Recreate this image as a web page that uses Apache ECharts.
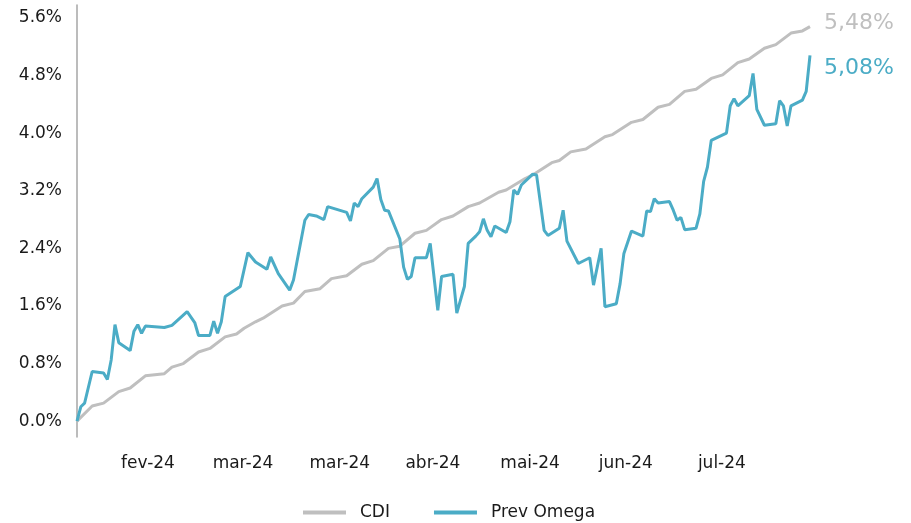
<!DOCTYPE html>
<html>
<head>
<meta charset="utf-8">
<script src="https://cdn.jsdelivr.net/npm/echarts@6/dist/echarts.min.js"></script>
<style>
  html, body { margin: 0; padding: 0; background: #fff; }
  #chart { width: 911px; height: 523px; }
</style>
</head>
<body>
<div id="chart"></div>
<script>
// dias corridos desde 29/12/2023
const cdiDays = [0, 4, 7, 11, 14, 18, 23, 25, 28, 32, 35, 39, 42, 44, 47, 49, 54, 57, 60, 64,
  67, 71, 75, 78, 82, 85, 89, 92, 96, 99, 103, 106, 111, 113, 118, 120, 125, 127, 130, 134,
  139, 141, 146, 149, 153, 156, 160, 163, 167, 170, 174, 177, 181, 184, 188, 191, 193];
const cdiVals = [0.00, 0.21, 0.25, 0.41, 0.46, 0.63, 0.66, 0.75, 0.80, 0.96, 1.01, 1.17, 1.21, 1.29, 1.38, 1.43, 1.60, 1.64, 1.80, 1.84,
  1.98, 2.02, 2.18, 2.23, 2.40, 2.43, 2.61, 2.65, 2.80, 2.85, 2.98, 3.03, 3.18, 3.21, 3.37, 3.42, 3.59, 3.62, 3.74, 3.78,
  3.95, 3.98, 4.15, 4.19, 4.36, 4.40, 4.58, 4.61, 4.76, 4.81, 4.98, 5.03, 5.18, 5.23, 5.39, 5.42, 5.48];

const omegaDays = [0, 1, 2, 4, 7, 8, 9, 10, 11, 14, 15, 16, 17, 18, 23, 25, 29, 31, 32, 35,
  36, 37, 38, 39, 43, 45, 47, 50, 51, 53, 56, 57, 60, 61, 63, 65, 66, 71, 72, 73,
  74, 75, 78, 79, 80, 81, 82, 85, 86, 87, 88, 89, 92, 93, 95, 96, 99, 100, 102, 103,
  105, 106, 107, 108, 109, 110, 113, 114, 115, 116, 117, 120, 121, 123, 124, 127, 128, 129, 132, 135,
  136, 138, 139, 142, 143, 144, 146, 149, 150, 151, 152, 153, 156, 157, 158, 159, 160, 163, 164, 165,
  166, 167, 171, 172, 173, 174, 177, 178, 179, 181, 184, 185, 186, 187, 188, 191, 192, 193];
const omegaVals = [0.00, 0.20, 0.25, 0.69, 0.67, 0.58, 0.85, 1.34, 1.09, 0.98, 1.25, 1.34, 1.22, 1.32, 1.30, 1.33, 1.52, 1.37, 1.19, 1.19,
  1.39, 1.22, 1.38, 1.73, 1.87, 2.34, 2.21, 2.11, 2.28, 2.05, 1.82, 1.96, 2.79, 2.87, 2.85, 2.80, 2.98, 2.90, 2.78, 3.03,
  2.98, 3.09, 3.25, 3.37, 3.08, 2.93, 2.92, 2.53, 2.14, 1.97, 2.01, 2.27, 2.27, 2.47, 1.54, 2.01, 2.04, 1.50, 1.87, 2.47,
  2.57, 2.63, 2.81, 2.65, 2.56, 2.71, 2.62, 2.77, 3.21, 3.15, 3.28, 3.43, 3.42, 2.65, 2.58, 2.68, 2.93, 2.50, 2.19, 2.27,
  1.89, 2.40, 1.59, 1.63, 1.91, 2.33, 2.64, 2.57, 2.92, 2.91, 3.09, 3.03, 3.05, 2.93, 2.79, 2.83, 2.66, 2.68, 2.88, 3.33,
  3.53, 3.90, 4.00, 4.38, 4.48, 4.38, 4.52, 4.83, 4.33, 4.11, 4.13, 4.45, 4.38, 4.10, 4.38, 4.46, 4.58, 5.08];

const xLabels = ['fev-24', 'mar-24', 'mar-24', 'abr-24', 'mai-24', 'jun-24', 'jul-24'];
const xLabelDays = [18.7, 43.7, 69.2, 93.7, 119.3, 144.5, 169.8];
const yTicks = [0, 0.8, 1.6, 2.4, 3.2, 4.0, 4.8, 5.6];

const cinza = '#bfbfbf';
const azul = '#4bacc6';
const fonte = 'DejaVu Sans';

const pares = (xs, ys) => xs.map((x, i) => [x, ys[i]]);
const pct = v => v.toFixed(2).replace('.', ',') + '%';

const chart = echarts.init(document.getElementById('chart'));
chart.setOption({
  animation: false,
  grid: { left: 77, right: 101, top: 5, bottom: 86 },
  legend: {
    left: 298, top: 499,
    icon: 'rect',
    itemWidth: 43, itemHeight: 4, itemGap: 44,
    textStyle: { fontFamily: fonte, fontSize: 17, color: '#1a1a1a', padding: [0, 0, 0, 9] },
    data: ['CDI', 'Prev Omega']
  },
  xAxis: {
    type: 'value', min: 0, max: 193,
    axisLine: { show: false },
    axisTick: { show: false },
    splitLine: { show: false },
    axisLabel: {
      customValues: xLabelDays,
      margin: 18,
      fontFamily: fonte, fontSize: 17, color: '#1a1a1a',
      formatter: v => xLabels[xLabelDays.indexOf(v)] || ''
    }
  },
  yAxis: {
    type: 'value', min: -0.22, max: 5.78,
    axisLine: { show: true, lineStyle: { color: '#a6a6a6', width: 1.5 } },
    axisTick: { show: false },
    splitLine: { show: false },
    axisLabel: {
      customValues: yTicks,
      margin: 15,
      fontFamily: fonte, fontSize: 17, color: '#1a1a1a',
      formatter: v => v.toFixed(1) + '%'
    }
  },
  series: [
    {
      name: 'CDI', type: 'line', symbol: 'none',
      data: pares(cdiDays, cdiVals),
      lineStyle: { color: cinza, width: 3 },
      itemStyle: { color: cinza },
      endLabel: {
        show: true, distance: 14, offset: [0, -3],
        fontFamily: fonte, fontSize: 22, color: cinza,
        formatter: p => pct(p.value[1])
      }
    },
    {
      name: 'Prev Omega', type: 'line', symbol: 'none',
      data: pares(omegaDays, omegaVals),
      lineStyle: { color: azul, width: 3 },
      itemStyle: { color: azul },
      endLabel: {
        show: true, distance: 14, offset: [0, 13],
        fontFamily: fonte, fontSize: 22, color: azul,
        formatter: p => pct(p.value[1])
      }
    }
  ]
});
</script>
</body>
</html>
